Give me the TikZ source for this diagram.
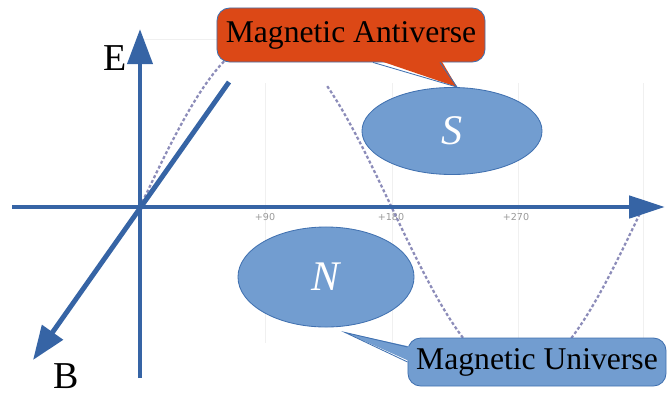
\documentclass[tikz,border=0pt]{standalone}
\usepackage{fontspec}
\setmainfont{Liberation Serif}
\newfontfamily\tickfont{DejaVu Sans}
\usepackage{tikz}
\usetikzlibrary{positioning,arrows.meta,shapes.geometric,calc}
\usepackage{xcolor}
\definecolor{axisblue}{RGB}{54,100,165}
\definecolor{polefill}{RGB}{114,157,208}
\definecolor{poleline}{RGB}{65,113,176}
\definecolor{antired}{RGB}{220,72,22}
\definecolor{wavegray}{RGB}{140,140,185}

\begin{document}
\begin{tikzpicture}[x=0.025cm, y=-0.025cm,
    axis/.style={line width=3.5pt, draw=axisblue, line cap=butt},
    grid/.style={draw=black!6, line width=0.6pt},
    wave/.style={draw=wavegray, line width=1.6pt, dash pattern=on 2.2pt off 1.6pt},
    pole/.style={ellipse, fill=polefill, draw=poleline, line width=0.6pt, inner sep=0pt,
                 text=white, font=\fontsize{30}{34}\selectfont\itshape},
    bubble/.style={rectangle, rounded corners=9pt, draw=poleline, line width=0.6pt,
                   inner sep=0pt, align=center, font=\fontsize{22.5}{26}\selectfont},
    axlbl/.style={font=\fontsize{27}{29}\selectfont, inner sep=0pt, anchor=base},
    tick/.style={font=\tickfont\fontsize{6.8}{8}\selectfont, text=black!40}
]
\useasboundingbox (0,0) rectangle (669,396);

% Faint chart grid
\foreach \gx in {265,392,518,643}
    \draw[grid] (\gx,83) -- (\gx,343);
\draw[grid] (143,39) -- (240,39);

% Tick labels
\node[tick] (t90)  at (265,217) {+90};
\node[tick] (t180) at (391,217) {+180};
\node[tick] (t270) at (516,217) {+270};

% Sine wave (dotted)
\draw[wave, domain=0:66, samples=40]
    plot ({140+\x*1.3972}, {207-168*sin(\x)});
\draw[wave, domain=134:360, samples=90]
    plot ({140+\x*1.3972}, {207-168*sin(\x)});

% Axes
\coordinate (O)  at (140,207);
\coordinate (xl) at (12,207);
\coordinate (xr) at (665,207);
\coordinate (yb) at (140,378);
\coordinate (yt) at (140,29);
\coordinate (bt) at (229,82);
\coordinate (bb) at (33,360);

\draw[axis, -{Triangle[length=0.9cm, width=0.55cm]}] (xl) -- (xr);
\draw[axis, -{Triangle[length=0.88cm, width=0.62cm]}] (yb) -- (yt);
\draw[axis, -{Triangle[length=0.85cm, width=0.62cm]}] (bt) -- (bb);

\node[axlbl] (E) at (115,70) {E};
\node[axlbl] (B) at (66,388) {B};

% Poles
\node[pole, minimum width=4.5cm, minimum height=2.175cm] (S) at (452,131) {S};
\node[pole, minimum width=4.4cm, minimum height=2.5cm] (N) at (326,277) {N};

% Callout: antiverse
\node[bubble, fill=antired, minimum width=6.7cm, minimum height=1.35cm] (anti) at (351,35)
    {Magnetic Antiverse};
\coordinate (atip) at ($(S.north)+(5,0)$);
\fill[antired] ($(anti.south)+(22,-4)$) -- (atip) -- ($(anti.south)+(89,-4)$) -- cycle;
\draw[poleline, line width=0.6pt, line join=miter]
    ($(anti.south)+(22,0)$) -- (atip) -- ($(anti.south)+(89,0)$);

% Callout: universe
\node[bubble, fill=polefill, minimum width=6.45cm, minimum height=1.2cm] (uni) at (537,362)
    {Magnetic Universe};
\coordinate (utip) at ($(N.south)+(19,5)$);
\fill[polefill] ($(uni.west)+(4,-15)$) -- (utip) -- ($(uni.west)+(4,0)$) -- cycle;
\draw[poleline, line width=0.6pt, line join=miter]
    ($(uni.west)+(0,-15)$) -- (utip) -- (uni.west);

\end{tikzpicture}
\end{document}
